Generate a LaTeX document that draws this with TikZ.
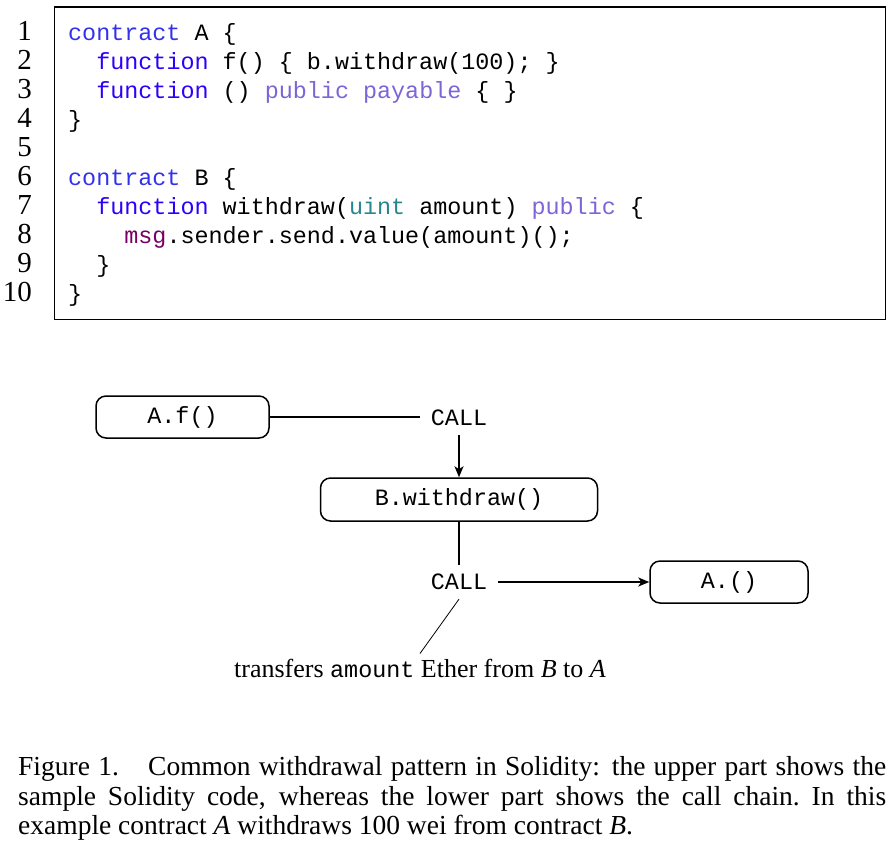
\documentclass[tikz,border=0pt]{standalone}
\usepackage{fontspec}
\setmainfont{Liberation Serif}
\setmonofont{Liberation Mono}
\usetikzlibrary{arrows.meta}
\definecolor{kwcontract}{RGB}{50,50,235}
\definecolor{kwfunction}{RGB}{45,0,250}
\definecolor{kwmod}{RGB}{125,100,215}
\definecolor{kwtype}{RGB}{40,135,140}
\definecolor{kwmsg}{RGB}{120,0,100}
\newcommand\kc[1]{\textcolor{kwcontract}{#1}}
\newcommand\kf[1]{\textcolor{kwfunction}{#1}}
\newcommand\km[1]{\textcolor{kwmod}{#1}}
\newcommand\kt[1]{\textcolor{kwtype}{#1}}
\newcommand\kg[1]{\textcolor{kwmsg}{#1}}
\tikzset{
  codeline/.style={anchor=base west, inner sep=0pt, font=\fontsize{23.4}{29}\selectfont\ttfamily},
  numline/.style={anchor=base east, inner sep=0pt, font=\fontsize{29}{29}\selectfont},
  fnbox/.style={draw, line width=1.5pt, rounded corners=10pt, font=\fontsize{23.4}{29}\selectfont\ttfamily, inner sep=0pt},
  calltext/.style={inner xsep=11pt, inner ysep=9pt, font=\fontsize{23.4}{29}\selectfont\ttfamily},
  conn/.style={line width=1.6pt},
  arr/.style={line width=1.6pt, -{Stealth[length=11pt,width=9pt,inset=3pt]}},
  capline/.style={anchor=base west, inner sep=0pt, font=\fontsize{27.5}{29.5}\selectfont},
}
\begin{document}
\begin{tikzpicture}[x=1pt,y=1pt]
\useasboundingbox (0,0) rectangle (896,-844);
% code frame
\draw[line width=1.2pt] (54.5,-7) rectangle (885.5,-319.5);
% line numbers
\foreach \i in {1,...,10} {
  \node[numline] (n\i) at (32,{-40-29*(\i-1)}) {\i};
}
% code
\node[codeline] (c1) at (68,-40) {\kc{contract} A \{};
\node[codeline] (c2) at (96.1,-69) {\kf{function} f() \{ b.withdraw(100); \}};
\node[codeline] (c3) at (96.1,-98) {\kf{function} () \km{public} \km{payable} \{ \}};
\node[codeline] (c4) at (68,-127) {\}};
\node[codeline] (c6) at (68,-185) {\kc{contract} B \{};
\node[codeline] (c7) at (96.1,-214) {\kf{function} withdraw(\kt{uint} amount) \km{public} \{};
\node[codeline] (c8) at (124.2,-243) {\kg{msg}.sender.send.value(amount)();};
\node[codeline] (c9) at (96.1,-272) {\}};
\node[codeline] (c10) at (68,-301) {\}};
% diagram
\node[fnbox, minimum width=173pt, minimum height=42pt] (af) at (182.5,-417) {A.f()};
\node[calltext] (call1) at (459,-418) {CALL};
\node[fnbox, minimum width=277pt, minimum height=43pt] (bw) at (459,-499.5) {B.withdraw()};
\node[calltext] (call2) at (459,-582) {CALL};
\node[fnbox, minimum width=158pt, minimum height=42pt] (aa) at (729,-582) {A.()};
\node[anchor=base, inner sep=5pt, font=\fontsize{26}{29}\selectfont] (lbl) at (420,-677)
  {transfers {\fontsize{23.4}{29}\selectfont\ttfamily amount} Ether from \textit{B} to \textit{A}};
\draw[conn] (af.east) -- (af.east -| call1.west);
\draw[arr] (call1.south) -- (bw.north);
\draw[conn] (bw.south) -- (call2.north);
\draw[arr] (call2.east) -- (aa.west);
\draw[line width=0.8pt] (call2.south) -- (lbl.north);
% caption
\node[capline] (cap1) at (18,-775) {\makebox[868pt][s]{Figure 1.\hspace{16pt} Common withdrawal pattern in Solidity: the upper part shows the}};
\node[capline] (cap2) at (18,-805) {\makebox[868pt][s]{sample Solidity code, whereas the lower part shows the call chain.\ In this}};
\node[capline] (cap3) at (18,-834.5) {example contract \textit{A} withdraws 100 wei from contract \textit{B}.};
\end{tikzpicture}
\end{document}
